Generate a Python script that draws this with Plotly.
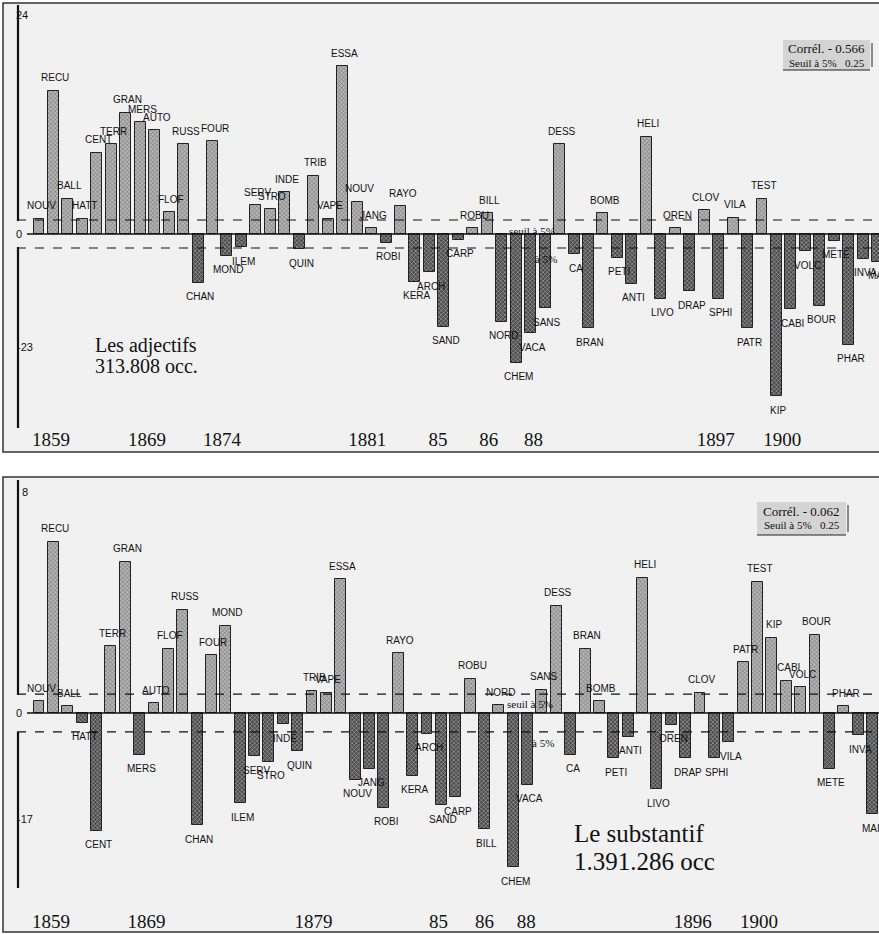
import plotly.graph_objects as go

# ---------------- data ----------------
words = ["NOUV", "RECU", "BALL", "HATT", "CENT", "TERR", "GRAN", "MERS", "AUTO", "FLOF",
         "RUSS", "CHAN", "FOUR", "MOND", "ILEM", "SERV", "STRO", "INDE", "QUIN", "TRIB",
         "VAPE", "ESSA", "NOUV", "JANG", "ROBI", "RAYO", "KERA", "ARCH", "SAND", "CARP",
         "ROBU", "BILL", "NORD", "CHEM", "VACA", "SANS", "DESS", "CA", "BRAN", "BOMB",
         "PETI", "ANTI", "HELI", "LIVO", "OREN", "DRAP", "CLOV", "SPHI", "VILA", "PATR",
         "TEST", "KIP", "CABI", "VOLC", "BOUR", "METE", "PHAR", "INVA", "MAIT"]

adjectifs = [1.6, 15.0, 3.7, 1.6, 8.5, 9.4, 12.7, 11.7, 10.9, 2.3,
             9.4, -5.1, 9.7, -2.3, -1.4, 3.0, 2.6, 4.4, -1.6, 6.1,
             1.6, 17.6, 3.4, 0.6, -0.9, 2.9, -5.0, -4.0, -9.7, -0.6,
             0.6, 2.2, -9.2, -13.5, -10.4, -7.8, 9.4, -2.1, -9.9, 2.2,
             -2.5, -5.2, 10.2, -6.8, 0.6, -6.0, 2.5, -6.8, 1.7, -9.9,
             3.7, -17.0, -7.9, -1.8, -7.5, -0.7, -11.6, -2.6, -2.9]

substantif = [0.41, 5.88, 0.24, -0.34, -4.05, 2.30, 5.19, -1.44, 0.34, 2.20,
              3.54, -3.85, 1.99, 2.99, -3.09, -1.48, -1.68, -0.38, -1.31, 0.76,
              0.69, 4.60, -2.30, -1.92, -3.26, 2.06, -2.16, -0.72, -3.16, -2.89,
              1.17, -3.99, 0.27, -5.29, -2.47, 0.79, 3.68, -1.44, 2.20, 0.41,
              -1.55, -0.82, 4.64, -2.61, -0.41, -1.55, 0.69, -1.55, -1.00, 1.75,
              4.50, 2.58, 1.10, 0.89, 2.68, -1.92, 0.24, -0.76, -3.47]

seuil_adj = 1.47
seuil_sub = 0.65

years_adj_pos = [0.83, 7.47, 12.66, 22.7, 27.6, 31.1, 34.2, 46.8, 51.4]
years_adj = ["1859", "1869", "1874", "1881", "85", "86", "88", "1897", "1900"]
years_sub_pos = [0.83, 7.48, 19.1, 27.8, 31.0, 33.9, 45.5, 50.1]
years_sub = ["1859", "1869", "1879", "85", "86", "88", "1896", "1900"]

# ---------------- layout helpers ----------------
W, H = 879, 934
def px(x): return x / W
def py(y): return 1 - y / H

POS, POS_FG = "#b4b4b4", "#7a7a7a"
NEG, NEG_FG = "#4a4a4a", "#262626"
INK = "#111111"
SERIF = "Liberation Serif, Times New Roman, serif"
SANS = "Liberation Sans, Arial, sans-serif"

xs = list(range(len(words)))
fig = go.Figure()
for vals, xa, ya in [(adjectifs, "x", "y"), (substantif, "x2", "y2")]:
    fig.add_trace(go.Bar(
        x=xs, y=vals, xaxis=xa, yaxis=ya, width=0.76,
        marker=dict(color=[POS if v > 0 else NEG for v in vals],
                    line=dict(color="#222", width=1),
                    pattern=dict(shape="x", size=3, solidity=0.25,
                                 fgcolor=[POS_FG if v > 0 else NEG_FG for v in vals],
                                 fgopacity=0.8)),
        hoverinfo="skip", showlegend=False))

# scales: top zero at py 234, 9.54 px/unit ; bottom zero at py 713, 29.125 px/unit
top_dom = [py(426), py(5)]
bot_dom = [py(908), py(480)]
top_rng = [-(426 - 234) / 9.54, (234 - 5) / 9.54]
bot_rng = [-(908 - 713) / 29.125, (713 - 480) / 29.125]
sp_t, sp_b = 14.46, 14.37

axcommon = dict(showgrid=False, zeroline=False, showline=False, ticks="",
                tickfont=dict(family=SERIF, size=19, color=INK))
fig.update_layout(
    width=W, height=H, margin=dict(l=0, r=0, t=0, b=0),
    paper_bgcolor="white", plot_bgcolor="rgba(0,0,0,0)",
    bargap=0,
    xaxis=dict(domain=[0, 1], anchor="y", range=[-39 / sp_t, (W - 39) / sp_t],
               tickvals=years_adj_pos, ticktext=years_adj, **axcommon),
    yaxis=dict(domain=top_dom, anchor="x", range=top_rng, showticklabels=False,
               showgrid=False, zeroline=False),
    xaxis2=dict(domain=[0, 1], anchor="y2", range=[-39 / sp_b, (W - 39) / sp_b],
                tickvals=years_sub_pos, ticktext=years_sub, **axcommon),
    yaxis2=dict(domain=bot_dom, anchor="x2", range=bot_rng, showticklabels=False,
                showgrid=False, zeroline=False),
)

shapes = []
ann = []
def note(text, x, y, size, family=SANS, xanchor="center", xref="paper", yref="paper", **kw):
    ann.append(dict(text=text, xref=xref, yref=yref, x=x, y=y, showarrow=False,
                    xanchor=xanchor, yanchor="middle",
                    font=dict(family=family, size=size, color=INK), **kw))

# panel frames
for (t, b) in [(3, 452), (477, 932)]:
    shapes.append(dict(type="rect", xref="paper", yref="paper", x0=px(3), x1=px(900),
                       y0=py(b), y1=py(t), fillcolor="#f1f1f1",
                       line=dict(color="#333", width=1.5), layer="below"))

# axes lines and threshold lines
for yr, s, seg in [("y", seuil_adj, [(5, 221), (247, 428)]),
                   ("y2", seuil_sub, [(480, 695), (732, 888)])]:
    shapes.append(dict(type="line", xref="paper", yref=yr, x0=px(27), x1=px(900),
                       y0=0, y1=0, line=dict(color="#111", width=1.5)))
    for sgn in (1, -1):
        shapes.append(dict(type="line", xref="paper", yref=yr, x0=px(17), x1=px(900),
                           y0=sgn * s, y1=sgn * s,
                           line=dict(color="#111", width=1.2, dash="dash")))
    for (a, b) in seg:
        shapes.append(dict(type="line", xref="paper", yref="paper", x0=px(18), x1=px(18),
                           y0=py(b), y1=py(a), line=dict(color="#111", width=2.2)))

# y labels
for txt, x, y in [("24", 22, 15), ("0", 19, 234), ("-23", 25, 347),
                  ("8", 25, 492), ("0", 19, 713), ("-17", 25, 819)]:
    note(txt, px(x), py(y), 11)

# bar labels
for xa, ya, vals in [("x", "y", adjectifs), ("x2", "y2", substantif)]:
    for i, (w, v) in enumerate(zip(words, vals)):
        note(w, i, v, 10, xref=xa, yref=ya, xshift=2, yshift=13 if v > 0 else -14)

# seuil texts
for txt, x, y in [("seuil à 5%", 532, 231), ("à 5%", 546, 259),
                  ("seuil à 5%", 530, 704), ("à 5%", 543, 743)]:
    note(txt, px(x), py(y), 11, family=SERIF)

# titles
for txt, x, y, s in [("Les adjectifs", 93, 345, 20), ("313.808 occ.", 93, 366, 20),
                     ("Le substantif", 572, 833, 25), ("1.391.286 occ", 572, 861, 25)]:
    note(txt, px(x), py(y), s, family=SERIF, xanchor="left")

# correlation boxes
for (x0, x1, t, b, c) in [(783, 870, 40, 70, "Corrél. - 0.566"),
                          (757, 846, 502, 535, "Corrél. - 0.062")]:
    shapes.append(dict(type="rect", xref="paper", yref="paper", x0=px(x0), x1=px(x1),
                       y0=py(b), y1=py(t), fillcolor="#d4d4d4", line=dict(width=0)))
    shapes.append(dict(type="line", xref="paper", yref="paper", x0=px(x0), x1=px(x1),
                       y0=py(b), y1=py(b), line=dict(color="#222", width=1)))
    shapes.append(dict(type="line", xref="paper", yref="paper", x0=px(x1 + 2), x1=px(x1 + 2),
                       y0=py(b - 3), y1=py(t + 3), line=dict(color="#222", width=1)))
    cx = (x0 + x1) / 2
    note(c, px(cx), py(t + 9), 13, family=SERIF)
    note("Seuil à 5%&nbsp;&nbsp;&nbsp;0.25", px(cx), py(t + 23), 11, family=SERIF)

fig.update_layout(shapes=shapes, annotations=ann)
fig.write_html("out.html", config={"displayModeBar": False},
               post_script="document.body.style.margin='0';document.body.style.overflow='hidden';")
